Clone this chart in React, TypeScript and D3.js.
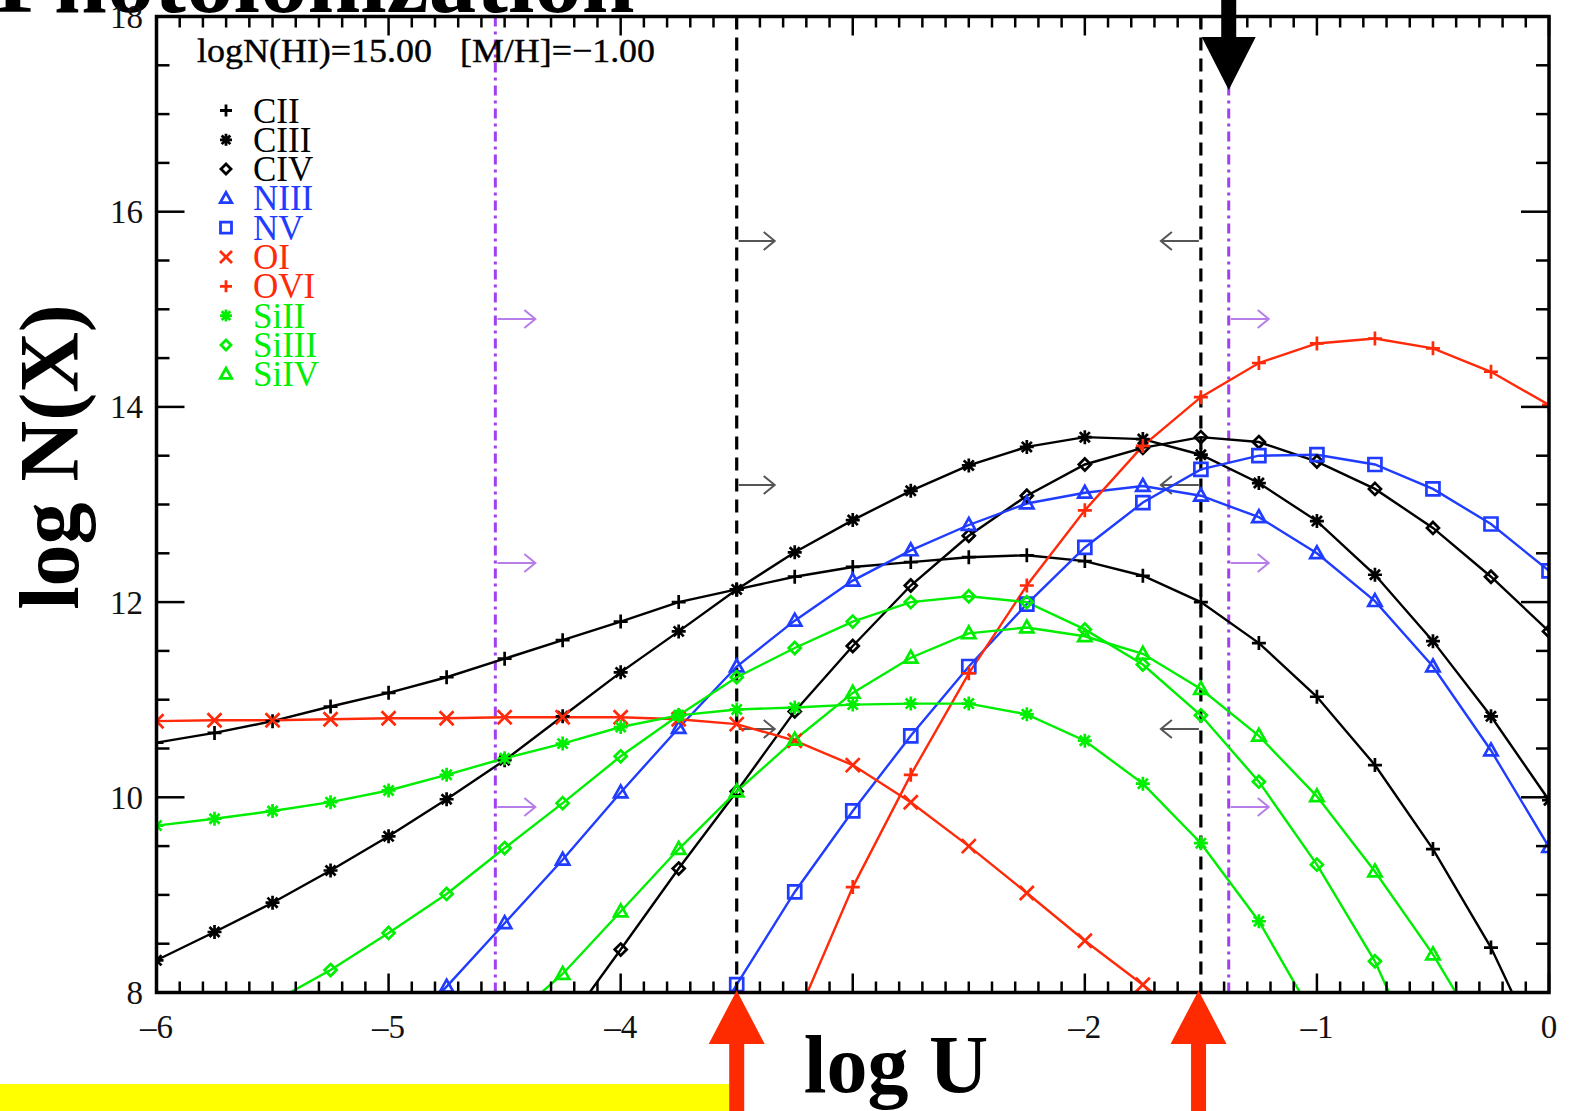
import React from "react";
import * as d3 from "d3";

// Photoionization model grid: column densities vs. ionization parameter
const logU = [-6, -5.75, -5.5, -5.25, -5, -4.75, -4.5, -4.25, -4, -3.75, -3.5, -3.25, -3, -2.75, -2.5, -2.25, -2, -1.75, -1.5, -1.25, -1, -0.75, -0.5, -0.25, 0];

const CII = [10.56, 10.66, 10.78, 10.93, 11.07, 11.23, 11.42, 11.61, 11.8, 12.0, 12.13, 12.26, 12.36, 12.41, 12.46, 12.48, 12.42, 12.27, 12.0, 11.58, 11.03, 10.33, 9.47, 8.46, 7.2];
const CIII = [8.33, 8.62, 8.92, 9.25, 9.6, 9.98, 10.38, 10.83, 11.28, 11.7, 12.13, 12.51, 12.84, 13.14, 13.4, 13.59, 13.69, 13.67, 13.51, 13.22, 12.83, 12.28, 11.6, 10.83, 9.97];
const CIV = [null, null, null, null, null, null, null, 7.62, 8.44, 9.27, 10.06, 10.88, 11.55, 12.17, 12.68, 13.09, 13.41, 13.58, 13.69, 13.64, 13.44, 13.16, 12.76, 12.26, 11.7];
const NIII = [null, null, null, null, 7.45, 8.06, 8.71, 9.36, 10.05, 10.71, 11.34, 11.81, 12.22, 12.53, 12.79, 13.01, 13.12, 13.19, 13.09, 12.87, 12.5, 12.01, 11.34, 10.48, 9.49];
const NV = [null, null, null, null, null, null, null, null, null, 7.1, 8.08, 9.03, 9.86, 10.63, 11.34, 11.98, 12.56, 13.02, 13.36, 13.5, 13.51, 13.41, 13.16, 12.8, 12.32];
const OI = [10.78, 10.79, 10.79, 10.8, 10.81, 10.81, 10.82, 10.82, 10.82, 10.8, 10.75, 10.58, 10.33, 9.95, 9.5, 9.02, 8.53, 8.08, 7.6, null, null, null, null, null, null];
const OVI = [null, null, null, null, null, null, null, null, null, null, null, 7.7, 9.08, 10.23, 11.27, 12.17, 12.94, 13.6, 14.1, 14.45, 14.65, 14.7, 14.6, 14.36, 14.02];
const SiII = [9.71, 9.78, 9.86, 9.95, 10.07, 10.23, 10.4, 10.55, 10.72, 10.84, 10.9, 10.92, 10.95, 10.96, 10.96, 10.85, 10.58, 10.14, 9.53, 8.73, 7.7, null, null, null, null];
const SiIII = [null, null, 7.9, 8.23, 8.61, 9.01, 9.48, 9.94, 10.42, 10.84, 11.23, 11.53, 11.8, 12.0, 12.06, 12.0, 11.72, 11.36, 10.84, 10.16, 9.31, 8.32, 7.0, null, null];
const SiIV = [null, null, null, null, null, null, 7.67, 8.19, 8.83, 9.47, 10.06, 10.59, 11.07, 11.43, 11.68, 11.74, 11.65, 11.47, 11.11, 10.63, 10.01, 9.24, 8.39, 7.4, null];

const ionNames = ["CII", "CIII", "CIV", "NIII", "NV", "OI", "OVI", "SiII", "SiIII", "SiIV"];
const ionValues = [CII, CIII, CIV, NIII, NV, OI, OVI, SiII, SiIII, SiIV];
const ionSymbols = ["plus", "star", "diamond", "triangle", "square", "cross", "plus", "star", "diamond", "triangle"];
const ionColors = ["#000000", "#000000", "#000000", "#1f3cff", "#1f3cff", "#ff2a0a", "#ff2a0a", "#00ee00", "#00ee00", "#00ee00"];

const xTickValues = [-6, -5, -4, -3, -2, -1, 0];
const xTickLabels = ["\u20136", "\u20135", "\u20134", "", "\u20132", "\u20131", "0"];
const yTickValues = [8, 10, 12, 14, 16, 18];

// vertical markers on the logU axis
const cutLines = [-3.5, -1.5];
const limitLines = [-4.54, -1.38];
const cutArrowLevels = [15.7, 13.2, 10.7];
const limitArrowLevels = [14.9, 12.4, 9.9];
const redArrowPositions = [-3.5, -1.51];
const blackArrowPosition = -1.38;

const W = 1574;
const H = 1111;
const left = 156.5;
const right = 1549;
const top = 16.5;
const bottom = 992.5;

const serif = "'Liberation Serif', 'Times New Roman', Times, serif";

function symbolPath(kind: string, s: number): string {
  switch (kind) {
    case "plus":
      return `M${-s},0H${s}M0,${-s}V${s}`;
    case "cross":
      return `M${-s},${-s}L${s},${s}M${-s},${s}L${s},${-s}`;
    case "star": {
      const d = s * 0.72;
      return `M${-s},0H${s}M0,${-s}V${s}M${-d},${-d}L${d},${d}M${-d},${d}L${d},${-d}`;
    }
    case "diamond":
      return `M0,${-s}L${s},0L0,${s}L${-s},0Z`;
    case "triangle":
      return `M0,${-s}L${s * 0.95},${s * 0.7}L${-s * 0.95},${s * 0.7}Z`;
    case "square":
      return `M${-s},${-s}H${s}V${s}H${-s}Z`;
    default:
      return "";
  }
}

function symbolSize(kind: string): number {
  if (kind === "diamond") return 6;
  if (kind === "square") return 6.5;
  return 7;
}

export default function App() {
  const x = d3.scaleLinear().domain([-6, 0]).range([left, right]);
  const y = d3.scaleLinear().domain([8, 18]).range([bottom, top]);

  const line = d3
    .line<number | null>()
    .defined((d) => d !== null)
    .x((_, i) => x(logU[i]))
    .y((d) => y(d as number));

  const xMinor = d3.range(-60, 1).map((v) => v / 10).filter((v) => Math.abs(v - Math.round(v)) > 1e-6);
  const yMinor = d3.range(16, 37).map((v) => v / 2).filter((v) => v % 2 !== 0);

  const arrowHead = (x0: number, yy: number, dir: number, col: string, len: number) => {
    const x1 = x0 + dir * len;
    return (
      <g stroke={col} fill="none" strokeWidth={2}>
        <path d={`M${x0},${yy}H${x1}`} />
        <path d={`M${x1 - dir * 11},${yy - 9}L${x1},${yy}L${x1 - dir * 11},${yy + 9}`} />
      </g>
    );
  };

  return (
    <svg
      width={W}
      height={H}
      viewBox={`0 0 ${W} ${H}`}
      style={{ position: "absolute", left: 0, top: 0, display: "block", background: "#ffffff" }}
    >
      <defs>
        <clipPath id="plotArea">
          <rect x={left} y={top} width={right - left} height={bottom - top} />
        </clipPath>
      </defs>

      {/* title, partly above the page edge */}
      <text x={-4} y={12} fontFamily={serif} fontWeight="bold" fontSize={95} fill="#000">
        Photoionization
      </text>

      {/* highlight band */}
      <rect x={0} y={1084} width={x(-3.5)} height={27} fill="#ffff00" />

      {/* reference lines */}
      {cutLines.map((v) => (
        <line key={`c${v}`} x1={x(v)} x2={x(v)} y1={top} y2={bottom} stroke="#000" strokeWidth={3.2} strokeDasharray="13,8" />
      ))}
      {limitLines.map((v) => (
        <line key={`l${v}`} x1={x(v)} x2={x(v)} y1={top} y2={bottom} stroke="#a040f0" strokeWidth={3} strokeDasharray="10,5,3,5" />
      ))}

      {/* direction arrows */}
      {cutArrowLevels.map((lv) => (
        <g key={`ca${lv}`}>
          {arrowHead(x(cutLines[0]) + 2, y(lv), 1, "#555", 36)}
          {arrowHead(x(cutLines[1]) - 2, y(lv), -1, "#555", 38)}
        </g>
      ))}
      {limitArrowLevels.map((lv) => (
        <g key={`la${lv}`}>
          {arrowHead(x(limitLines[0]) + 2, y(lv), 1, "#b57ee8", 38)}
          {arrowHead(x(limitLines[1]) + 2, y(lv), 1, "#b57ee8", 38)}
        </g>
      ))}

      {/* model curves */}
      <g clipPath="url(#plotArea)">
        {ionValues.map((vals, k) => (
          <path key={`p${k}`} d={line(vals) || ""} fill="none" stroke={ionColors[k]} strokeWidth={2.4} />
        ))}
        {ionValues.map((vals, k) =>
          vals.map((v, i) =>
            v === null ? null : (
              <path
                key={`m${k}-${i}`}
                d={symbolPath(ionSymbols[k], symbolSize(ionSymbols[k]))}
                transform={`translate(${x(logU[i])},${y(v)})`}
                fill="none"
                stroke={ionColors[k]}
                strokeWidth={2.7}
              />
            )
          )
        )}
      </g>

      {/* frame */}
      <rect x={left} y={top} width={right - left} height={bottom - top} fill="none" stroke="#000" strokeWidth={3.5} />

      {/* ticks */}
      <g stroke="#000" strokeWidth={2.5}>
        {xTickValues.map((v) => (
          <g key={`xt${v}`}>
            <line x1={x(v)} x2={x(v)} y1={bottom} y2={bottom - 19} />
            <line x1={x(v)} x2={x(v)} y1={top} y2={top + 19} />
          </g>
        ))}
        {xMinor.map((v) => (
          <g key={`xm${v}`}>
            <line x1={x(v)} x2={x(v)} y1={bottom} y2={bottom - 11} />
            <line x1={x(v)} x2={x(v)} y1={top} y2={top + 11} />
          </g>
        ))}
        {yTickValues.map((v) => (
          <g key={`yt${v}`}>
            <line x1={left} x2={left + 28} y1={y(v)} y2={y(v)} />
            <line x1={right} x2={right - 28} y1={y(v)} y2={y(v)} />
          </g>
        ))}
        {yMinor.map((v) => (
          <g key={`ym${v}`}>
            <line x1={left} x2={left + 13} y1={y(v)} y2={y(v)} />
            <line x1={right} x2={right - 13} y1={y(v)} y2={y(v)} />
          </g>
        ))}
      </g>

      {/* tick labels */}
      <g fontFamily={serif} fontSize={33} fill="#111">
        {xTickValues.map((v, i) => (
          <text key={`xl${v}`} x={x(v)} y={1038} textAnchor="middle">
            {xTickLabels[i]}
          </text>
        ))}
        {yTickValues.map((v) => (
          <text key={`yl${v}`} x={143} y={y(v)} dy="0.35em" textAnchor="end">
            {v}
          </text>
        ))}
      </g>

      {/* axis titles */}
      <text x={896} y={1092} textAnchor="middle" fontFamily={serif} fontWeight="bold" fontSize={82} fill="#000">
        log U
      </text>
      <text
        transform={`translate(78,457) rotate(-90)`}
        textAnchor="middle"
        fontFamily={serif}
        fontWeight="bold"
        fontSize={84}
        fill="#000"
      >
        log N(X)
      </text>

      {/* model parameters */}
      <g fontFamily={serif} fontSize={34} fill="#000" stroke="#000" strokeWidth={0.4}>
        <text x={197} y={62} textLength={235} lengthAdjust="spacingAndGlyphs">logN(HI)=15.00</text>
        <text x={460} y={62} textLength={195} lengthAdjust="spacingAndGlyphs">[M/H]={"\u2212"}1.00</text>
      </g>

      {/* legend */}
      <g fontFamily={serif} fontSize={35}>
        {ionNames.map((name, k) => {
          const cy = 110.5 + k * 29.3;
          return (
            <g key={`lg${name}`}>
              <path
                d={symbolPath(ionSymbols[k], symbolSize(ionSymbols[k]) - 1)}
                transform={`translate(226,${cy})`}
                fill="none"
                stroke={ionColors[k]}
                strokeWidth={2.8}
              />
              <text x={253} y={cy + 12} fill={ionColors[k]}>
                {name}
              </text>
            </g>
          );
        })}
      </g>

      {/* pointer arrows */}
      {redArrowPositions.map((v) => {
        const cx = x(v);
        return (
          <path
            key={`ra${v}`}
            d={`M${cx},${bottom - 2}L${cx + 28},${1044}L${cx + 7.5},${1044}L${cx + 7.5},${H}L${cx - 7.5},${H}L${cx - 7.5},${1044}L${cx - 28},${1044}Z`}
            fill="#ff2b00"
          />
        );
      })}
      {(() => {
        const cx = x(blackArrowPosition);
        return (
          <path
            d={`M${cx - 7.5},0L${cx + 7.5},0L${cx + 7.5},37L${cx + 27},37L${cx},90L${cx - 27},37L${cx - 7.5},37Z`}
            fill="#000"
          />
        );
      })()}
    </svg>
  );
}
